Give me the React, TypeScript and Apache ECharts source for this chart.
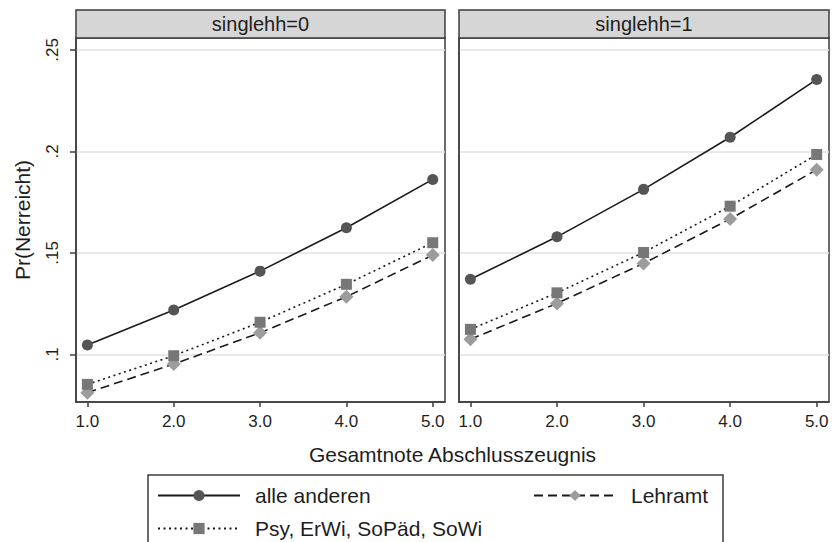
import React, { useEffect, useRef } from "react";
import * as echarts from "echarts";

const xValues = [1, 2, 3, 4, 5];
const xTickLabels = ["1.0", "2.0", "3.0", "4.0", "5.0"];
const yTicks = [0.1, 0.15, 0.2, 0.25];
const yTickLabels = [".1", ".15", ".2", ".25"];
const panelTitles = ["singlehh=0", "singlehh=1"];
const seriesNames = ["alle anderen", "Psy, ErWi, SoPäd, SoWi", "Lehramt"];
const xTitle = "Gesamtnote Abschlusszeugnis";
const yTitle = "Pr(Nerreicht)";

// singlehh = 0
const alleAnderen0 = [0.1046, 0.1218, 0.141, 0.1624, 0.1862];
const psy0 = [0.0852, 0.0993, 0.1158, 0.1345, 0.155];
const lehramt0 = [0.0811, 0.0952, 0.1106, 0.1284, 0.1489];
// singlehh = 1
const alleAnderen1 = [0.137, 0.1579, 0.1813, 0.207, 0.2355];
const psy1 = [0.1123, 0.1303, 0.1502, 0.173, 0.1985];
const lehramt1 = [0.1074, 0.1251, 0.1448, 0.1667, 0.191];

const FONT = "'Liberation Sans', Arial, sans-serif";
const TEXT = "#1e1e1e";
const BORDER = "#3c3c3c";

const styles = [
  { line: { color: "#1a1a1a", width: 1.6, type: "solid" as any }, symbol: "circle", size: 11, fill: "#555555" },
  { line: { color: "#1a1a1a", width: 1.6, type: [2, 3.5] as any }, symbol: "rect", size: 11, fill: "#777777" },
  { line: { color: "#1a1a1a", width: 1.6, type: [9, 5] as any }, symbol: "diamond", size: 14, fill: "#9c9c9c" },
];

const panelData = [
  [alleAnderen0, psy0, lehramt0],
  [alleAnderen1, psy1, lehramt1],
];

const grids = [
  { left: 76, top: 38, width: 369, height: 364 },
  { left: 459, top: 38, width: 370, height: 364 },
];

export default function App() {
  const ref = useRef<HTMLDivElement>(null);

  useEffect(() => {
    if (!ref.current) return;
    document.body.style.margin = "0";
    document.body.style.overflow = "hidden";
    const chart = echarts.init(ref.current, undefined, { renderer: "svg" });

    const series: any[] = [];
    panelData.forEach((panel, gi) => {
      panel.forEach((vals, si) => {
        const st = styles[si];
        series.push({
          type: "line",
          name: seriesNames[si],
          xAxisIndex: gi,
          yAxisIndex: gi,
          data: xValues.map((x, i) => [x, vals[i]]),
          symbol: st.symbol,
          symbolSize: st.size,
          showSymbol: true,
          lineStyle: st.line,
          itemStyle: { color: st.fill },
          emphasis: { disabled: true },
          z: 3 - si,
        });
      });
    });

    const xAxes = grids.map((_, gi) => ({
      type: "value",
      gridIndex: gi,
      min: 0.868,
      max: 5.142,
      axisLine: { show: true, lineStyle: { color: BORDER, width: 1.5 } },
      axisTick: {
        show: true,
        customValues: xValues,
        length: 5,
        lineStyle: { color: BORDER, width: 1.5 },
      },
      axisLabel: {
        show: true,
        customValues: xValues,
        margin: 11,
        fontSize: 17,
        fontFamily: FONT,
        color: TEXT,
        formatter: (v: number) => xTickLabels[xValues.indexOf(Math.round(v))] ?? "",
      },
      splitLine: { show: false },
    }));

    const yAxes = grids.map((_, gi) => ({
      type: "value",
      gridIndex: gi,
      min: 0.0765,
      max: 0.2559,
      name: gi === 0 ? yTitle : "",
      nameLocation: "middle",
      nameGap: 43,
      nameRotate: 90,
      nameTextStyle: { fontSize: 21, fontFamily: FONT, color: TEXT },
      axisLine: { show: true, lineStyle: { color: BORDER, width: 1.5 } },
      axisTick: {
        show: gi === 0,
        customValues: yTicks,
        length: 6,
        lineStyle: { color: BORDER, width: 1.5 },
      },
      axisLabel: {
        show: gi === 0,
        customValues: yTicks,
        rotate: 90,
        margin: 15,
        fontSize: 17,
        fontFamily: FONT,
        color: TEXT,
        formatter: (v: number) => {
          const idx = yTicks.findIndex((t) => Math.abs(t - v) < 1e-6);
          return idx >= 0 ? yTickLabels[idx] : "";
        },
      },
      splitLine: { show: true, lineStyle: { color: "#e2e2e2", width: 1.5 } },
    }));

    const graphic: any[] = [];
    grids.forEach((g, gi) => {
      graphic.push({
        type: "rect",
        shape: { x: g.left, y: 10, width: g.width, height: 28 },
        style: { fill: "#d6d6d6", stroke: BORDER, lineWidth: 1.5 },
        z: 10,
      });
      graphic.push({
        type: "text",
        x: g.left + g.width / 2,
        y: 24,
        style: {
          text: panelTitles[gi],
          fontSize: 20,
          fontFamily: FONT,
          fill: TEXT,
          align: "center",
          verticalAlign: "middle",
        },
        z: 11,
      });
    });
    graphic.push({
      type: "text",
      x: (grids[0].left + grids[1].left + grids[1].width) / 2,
      y: 454,
      style: {
        text: xTitle,
        fontSize: 21,
        fontFamily: FONT,
        fill: TEXT,
        align: "center",
        verticalAlign: "middle",
      },
    });
    graphic.push({
      type: "rect",
      shape: { x: 148, y: 475, width: 575, height: 90 },
      style: { fill: "none", stroke: BORDER, lineWidth: 1.5 },
    });

    const legendBase = {
      orient: "horizontal",
      itemWidth: 82,
      itemHeight: 14,
      padding: 0,
      selectedMode: false,
      textStyle: {
        fontSize: 21,
        fontFamily: FONT,
        color: TEXT,
        padding: [0, 0, 0, 10],
      },
    };

    chart.setOption({
      animation: false,
      backgroundColor: "#ffffff",
      grid: grids.map((g) => ({
        ...g,
        show: true,
        borderColor: BORDER,
        borderWidth: 1.5,
        backgroundColor: "#ffffff",
      })),
      xAxis: xAxes,
      yAxis: yAxes,
      legend: [
        { ...legendBase, data: [seriesNames[0]], left: 157, top: 485 },
        { ...legendBase, data: [seriesNames[2]], left: 533, top: 485 },
        { ...legendBase, data: [seriesNames[1]], left: 157, top: 518 },
      ],
      graphic,
      series,
    });

    return () => chart.dispose();
  }, []);

  return (
    <div
      ref={ref}
      style={{ position: "fixed", left: 0, top: 0, width: 832, height: 542 }}
    />
  );
}
